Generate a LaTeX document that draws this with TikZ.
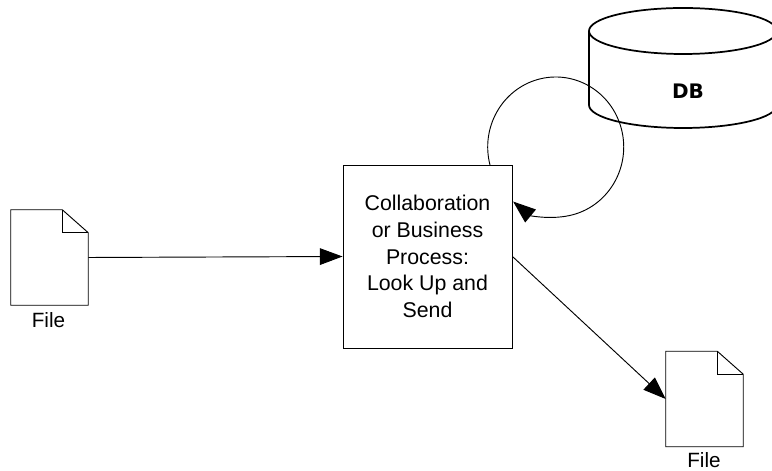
\documentclass[tikz,border=0pt]{standalone}
\usepackage{fontspec}
\setmainfont{Liberation Sans}
\newfontfamily\dbfont{DejaVu Sans}
\usetikzlibrary{arrows.meta}
\tikzset{
  x=.75pt,y=.75pt,
  ln/.style={line width=.7pt,black},
  arr/.style={ln,-{Triangle[length=17pt,width=12.5pt]}},
  procbox/.style={draw,ln,minimum width=126.75pt,minimum height=137.25pt,inner sep=0pt,align=center,font=\fontsize{16}{20}\selectfont},
  filebox/.style={minimum width=57.75pt,minimum height=71.25pt,inner sep=0pt},
  filelabel/.style={inner sep=0pt,font=\fontsize{15.5}{18}\selectfont},
  dblabel/.style={inner sep=0pt,font=\fontsize{15}{18}\dbfont\bfseries},
}
\newcommand{\filepath}[1]{%
  \draw[ln,line join=miter] (#1.north west) -- ([xshift=-19.5pt]#1.north east) -- ([yshift=-17.25pt]#1.north east) -- (#1.south east) -- (#1.south west) -- cycle;
  \draw[ln] ([xshift=-19.5pt]#1.north east) -- ([xshift=-19.5pt,yshift=-17.25pt]#1.north east) -- ([yshift=-17.25pt]#1.north east);
}
\begin{document}
\begin{tikzpicture}
\useasboundingbox (0,0) rectangle (772,471);
\begin{scope}
\clip (0,0) rectangle (772,471);
% database
\node[dblabel] (db) at (688,380) {DB};
\draw[line width=1.3pt] (589,440) -- (589,366);
\draw[line width=1.3pt] (777,440) -- (777,366);
\draw[line width=1.3pt] (683,440) ellipse [x radius=70.5pt,y radius=17.25pt];
\draw[line width=1.3pt] (589,366) arc [start angle=180,end angle=360,x radius=70.5pt,y radius=17.25pt];
\end{scope}
% process
\node[procbox] (box) at (427.5,214.5) {Collaboration\\or Business\\Process:\\Look Up and\\Send};
% files
\node[filebox] (f1) at (49.5,213.5) {};
\filepath{f1}
\node[filelabel] (f1l) at (48.5,151) {File};
\node[filebox] (f2) at (704.5,72) {};
\filepath{f2}
\node[filelabel] (f2l) at (704,11) {File};
% connectors
\draw[arr] (f1.east) -- (box.west);
\draw[arr] (box.east) -- (f2.west);
\coordinate (loopstart) at (490,306);
\draw[arr] (loopstart) arc [start angle=194.9,end angle=-128.8,x radius=51pt,y radius=52.5pt];
\end{tikzpicture}
\end{document}
